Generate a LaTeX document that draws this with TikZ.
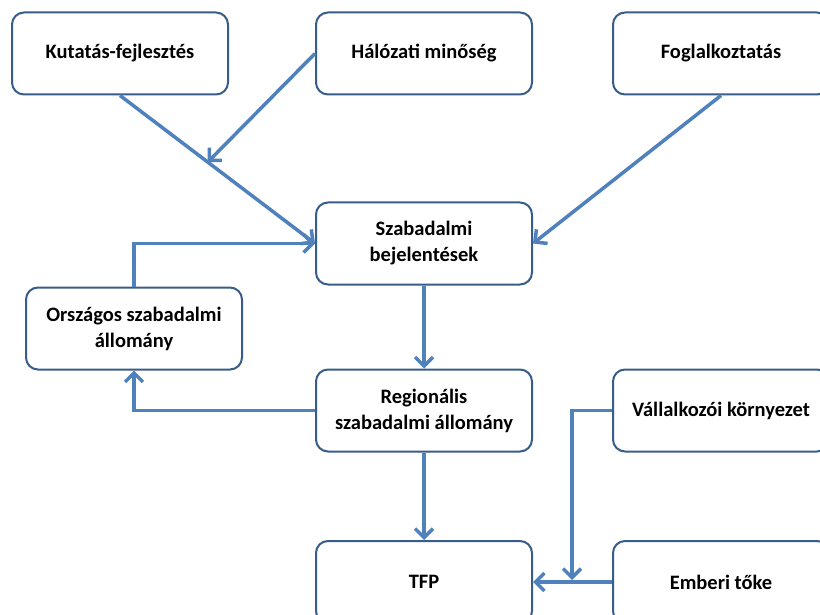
\documentclass[tikz,border=0pt]{standalone}
\usepackage{fontspec}
\setmainfont{Carlito}
\usetikzlibrary{arrows.meta,calc}
\definecolor{lineblue}{RGB}{79,129,189}
\definecolor{boxblue}{RGB}{56,93,138}
\begin{document}
\begin{tikzpicture}[x=1pt,y=-1pt,
  box/.style={draw=boxblue, line width=2pt, rounded corners=12pt, minimum width=216pt, minimum height=82pt, align=center, font=\bfseries\fontsize{20.5}{26}\selectfont, inner sep=0pt, fill=white},
  conn/.style={draw=lineblue, line width=3.5pt, -{Straight Barb[length=9pt,width=18pt]}}]
\useasboundingbox[fill=white] (0,0) rectangle (820,615);
\node[box] (kf) at (120,53.5) {Kutatás-fejlesztés};
\node[box] (hm) at (424,53.5) {Hálózati minőség};
\node[box] (fo) at (721,53.5) {Foglalkoztatás};
\node[box] (sb) at (424,243.5) {Szabadalmi\\bejelentések};
\node[box] (or) at (134,328.5) {Országos szabadalmi\\állomány};
\node[box] (rg) at (424,410.5) {Regionális\\szabadalmi állomány};
\node[box] (va) at (721,410.5) {Vállalkozói környezet};
\node[box] (tfp) at (424,582) {TFP};
\node[box] (et) at (721,582) {Emberi tőke};
\coordinate (m) at ($(kf.south)!0.45!(sb.west)$);
\coordinate (j) at (572,580);
\draw[conn] (kf.south) -- (sb.west);
\draw[conn] (hm.west) -- (m);
\draw[conn] (fo.south) -- (sb.east);
\draw[conn] (or.north) |- (sb.west);
\draw[conn] (sb.south) -- (rg.north);
\draw[conn] (rg.west) -| (or.south);
\draw[conn] (rg.south) -- (tfp.north);
\draw[conn] (va.west) -| (j);
\draw[conn] (et.west) -- (tfp.east);
\end{tikzpicture}
\end{document}
